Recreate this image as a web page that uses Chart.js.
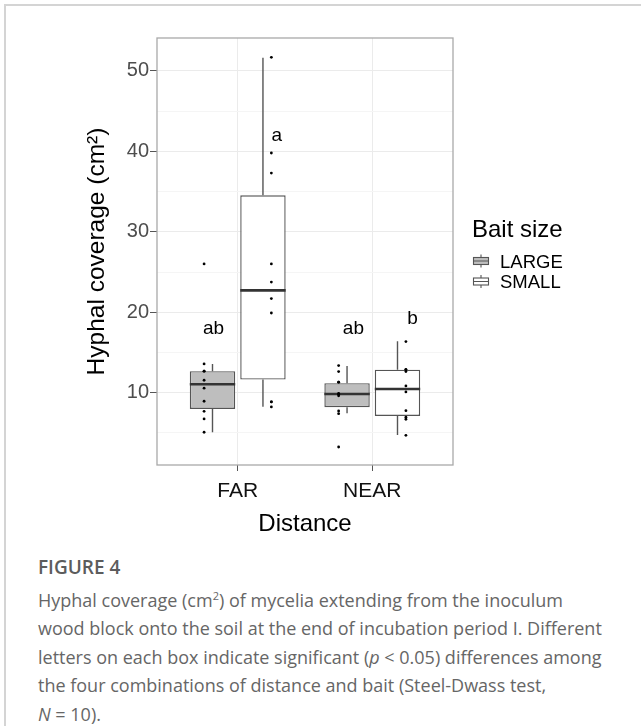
<!DOCTYPE html>
<html>
<head>
<meta charset="utf-8">
<script src="https://cdn.jsdelivr.net/npm/chart.js@4.4.0/dist/chart.umd.min.js"></script>
<style>
    body { margin: 0; background: #fff; width: 641px; height: 726px; overflow: hidden; position: relative; }
    #frame { position: absolute; left: 4px; top: 4px; right: 0; bottom: 0; border-top: 2px solid #d4d4d4; border-left: 2px solid #d4d4d4; }
    #chartBox { position: absolute; left: 0; top: 0; width: 641px; height: 545px; }
    #caption { position: absolute; left: 38px; top: 553px; width: 600px; font-family: "Open Sans", sans-serif; color: #666; font-size: 18px; line-height: 28.5px; white-space: nowrap; }
    #caption .fig { font-weight: 600; font-size: 19px; color: #5c5c5c; }
</style>
</head>
<body>
<div id="frame"></div>
<div id="chartBox"><canvas id="boxChart" width="641" height="545"></canvas></div>
<div id="caption">
    <span class="fig">FIGURE 4</span><br>
    Hyphal coverage (cm<sup style="font-size:11px">2</sup>) of mycelia extending from the inoculum<br>
    wood block onto the soil at the end of incubation period I. Different<br>
    letters on each box indicate significant (<i>p</i> &lt; 0.05) differences among<br>
    the four combinations of distance and bait (Steel-Dwass test,<br>
    <i>N</i> = 10).
</div>
<script>
// Hyphal coverage box plot
const categories = ['FAR', 'NEAR'];
const baitSizes = ['LARGE', 'SMALL'];

// box stats, one value per distance
const largeMin = [5.07, 7.45];
const largeQ1 = [7.97, 8.18];
const largeMedian = [11.05, 9.82];
const largeQ3 = [12.67, 11.18];
const largeMax = [13.55, 13.32];

const smallMin = [8.24, 4.72];
const smallQ1 = [11.62, 7.10];
const smallMedian = [22.72, 10.46];
const smallQ3 = [34.53, 12.85];
const smallMax = [51.65, 16.38];

// single observations (N = 10 each)
const largeFarPoints = [5.07, 6.73, 7.68, 8.93, 10.55, 11.54, 12.67, 12.67, 13.57, 26.0];
const largeNearPoints = [3.24, 7.38, 7.72, 9.6, 9.8, 9.9, 11.3, 11.3, 12.62, 13.36];
const smallFarPoints = [8.22, 8.84, 8.86, 19.9, 21.7, 23.75, 26.0, 37.3, 39.8, 51.7];
const smallNearPoints = [4.69, 6.69, 6.94, 7.76, 10.09, 10.83, 12.62, 12.83, 12.9, 16.35];

const yTicks = [5, 10, 15, 20, 25, 30, 35, 40, 45, 50];

// significance letters
const letterText = ['ab', 'a', 'ab', 'b'];
const letterX = [-0.18, 0.29, 0.86, 1.30];
const letterY = [17.9, 41.9, 17.9, 19.2];

const CAT_PCT = 0.75;
const BAR_PCT = 0.9;
const boxOffset = CAT_PCT / 4;               // centre of each box from category centre
const halfBox = CAT_PCT * BAR_PCT / 4;       // half box width, category units
const dotOffset = 0.25;

Chart.defaults.font.family = '"Liberation Sans", Arial, sans-serif';

const allBoxes = [];
categories.forEach((_, i) => {
    allBoxes.push({ x: i - boxOffset, min: largeMin[i], med: largeMedian[i], q1: largeQ1[i], q3: largeQ3[i], max: largeMax[i] });
    allBoxes.push({ x: i + boxOffset, min: smallMin[i], med: smallMedian[i], q1: smallQ1[i], q3: smallQ3[i], max: smallMax[i] });
});

const whiskerData = [];
const medianData = [];
allBoxes.forEach(b => {
    whiskerData.push({ x: b.x, y: b.q3 }, { x: b.x, y: b.max }, { x: b.x, y: null });
    whiskerData.push({ x: b.x, y: b.q1 }, { x: b.x, y: b.min }, { x: b.x, y: null });
    medianData.push({ x: b.x - halfBox, y: b.med }, { x: b.x + halfBox, y: b.med }, { x: b.x, y: null });
});

const dotData = [];
[largeFarPoints, largeNearPoints].forEach((pts, i) => {
    pts.forEach(v => dotData.push({ x: i - dotOffset, y: v }));
});
[smallFarPoints, smallNearPoints].forEach((pts, i) => {
    pts.forEach(v => dotData.push({ x: i + dotOffset, y: v }));
});

const panelAndNotes = {
    id: 'panelAndNotes',
    afterDatasetsDraw(chart) {
        const { ctx, chartArea } = chart;
        const xs = chart.scales.x;
        const ys = chart.scales.y;
        ctx.save();
        // letters
        ctx.fillStyle = '#000';
        ctx.font = '19px "Liberation Sans", Arial, sans-serif';
        ctx.textAlign = 'center';
        ctx.textBaseline = 'middle';
        letterText.forEach((t, i) => {
            ctx.fillText(t, xs.getPixelForValue(letterX[i]), ys.getPixelForValue(letterY[i]));
        });
        // panel border
        ctx.strokeStyle = '#a9a9a9';
        ctx.lineWidth = 1.3;
        ctx.strokeRect(chartArea.left, chartArea.top, chartArea.right - chartArea.left, chartArea.bottom - chartArea.top);
        ctx.restore();
    },
    afterDraw(chart) {
        const { ctx } = chart;
        ctx.save();
        ctx.fillStyle = '#000';
        ctx.textAlign = 'left';
        ctx.textBaseline = 'alphabetic';
        ctx.font = '24px "Liberation Sans", Arial, sans-serif';
        ctx.fillText('Bait size', 472, 237);
        ctx.font = '18.5px "Liberation Sans", Arial, sans-serif';
        const fills = ['#bebebe', '#ffffff'];
        baitSizes.forEach((name, i) => {
            const cy = 261 + i * 20.5;
            ctx.strokeStyle = '#555';
            ctx.lineWidth = 1.1;
            ctx.fillStyle = fills[i];
            ctx.fillRect(473.5, cy - 3.5, 15, 7);
            ctx.strokeRect(473.5, cy - 3.5, 15, 7);
            ctx.beginPath();
            ctx.moveTo(481, cy - 6.5); ctx.lineTo(481, cy - 3.5);
            ctx.moveTo(481, cy + 3.5); ctx.lineTo(481, cy + 6.5);
            ctx.moveTo(473.5, cy); ctx.lineTo(488.5, cy);
            ctx.stroke();
            ctx.fillStyle = '#000';
            ctx.fillText(name, 500, cy + 6.5);
        });
        ctx.restore();
    }
};

new Chart(document.getElementById('boxChart'), {
    type: 'bar',
    data: {
        datasets: [
            {
                label: baitSizes[0],
                data: largeQ1.map((q, i) => ({ x: i, y: [q, largeQ3[i]] })),
                backgroundColor: '#bebebe',
                borderColor: '#555555',
                borderWidth: 1.4,
                borderSkipped: false,
                categoryPercentage: CAT_PCT,
                barPercentage: BAR_PCT,
                order: 3
            },
            {
                label: baitSizes[1],
                data: smallQ1.map((q, i) => ({ x: i, y: [q, smallQ3[i]] })),
                backgroundColor: '#ffffff',
                borderColor: '#555555',
                borderWidth: 1.4,
                borderSkipped: false,
                categoryPercentage: CAT_PCT,
                barPercentage: BAR_PCT,
                order: 3
            },
            {
                type: 'line',
                label: 'whiskers',
                data: whiskerData,
                borderColor: '#555555',
                borderWidth: 1.4,
                pointRadius: 0,
                spanGaps: false,
                order: 2
            },
            {
                type: 'line',
                label: 'medians',
                data: medianData,
                borderColor: '#333333',
                borderWidth: 2.6,
                pointRadius: 0,
                spanGaps: false,
                order: 1
            },
            {
                type: 'scatter',
                label: 'observations',
                data: dotData,
                backgroundColor: '#000',
                borderWidth: 0,
                pointRadius: 1.4,
                order: 0
            }
        ]
    },
    options: {
        responsive: false,
        animation: false,
        devicePixelRatio: 1,
        layout: {
            padding: { left: 0, top: 38, right: 188, bottom: 0 }
        },
        plugins: {
            legend: { display: false },
            tooltip: { enabled: false }
        },
        scales: {
            x: {
                type: 'linear',
                min: -0.6,
                max: 1.6,
                offset: false,
                afterBuildTicks(scale) {
                    scale.ticks = categories.map((_, i) => ({ value: i }));
                },
                grid: {
                    offset: false,
                    color: '#ebebeb',
                    tickColor: '#555',
                    tickLength: 6
                },
                border: { display: false },
                ticks: {
                    color: '#111',
                    font: { size: 21 },
                    padding: 8,
                    callback: v => categories[v]
                },
                title: {
                    display: true,
                    text: 'Distance',
                    color: '#000',
                    font: { size: 24 },
                    padding: { top: 0, bottom: 6 }
                },
                afterFit(scale) { scale.height = 80; }
            },
            y: {
                type: 'linear',
                min: 1,
                max: 54.1,
                afterBuildTicks(scale) {
                    scale.ticks = yTicks.map(v => ({ value: v }));
                },
                grid: {
                    color: ctx => ctx.tick && ctx.tick.value % 10 === 0 ? '#ebebeb' : '#f5f5f5',
                    tickColor: ctx => ctx.tick && ctx.tick.value % 10 === 0 ? '#555' : 'rgba(0,0,0,0)',
                    tickLength: 7
                },
                border: { display: false },
                ticks: {
                    color: '#4d4d4d',
                    font: { size: 20 },
                    padding: 1,
                    callback: v => (v % 10 === 0 ? v : '')
                },
                title: {
                    display: true,
                    text: 'Hyphal coverage (cm²)',
                    color: '#000',
                    font: { size: 24.5 },
                    padding: { top: 83, bottom: 0 }
                },
                afterFit(scale) { scale.width = 157; }
            }
        }
    },
    plugins: [panelAndNotes]
});
</script>
</body>
</html>
